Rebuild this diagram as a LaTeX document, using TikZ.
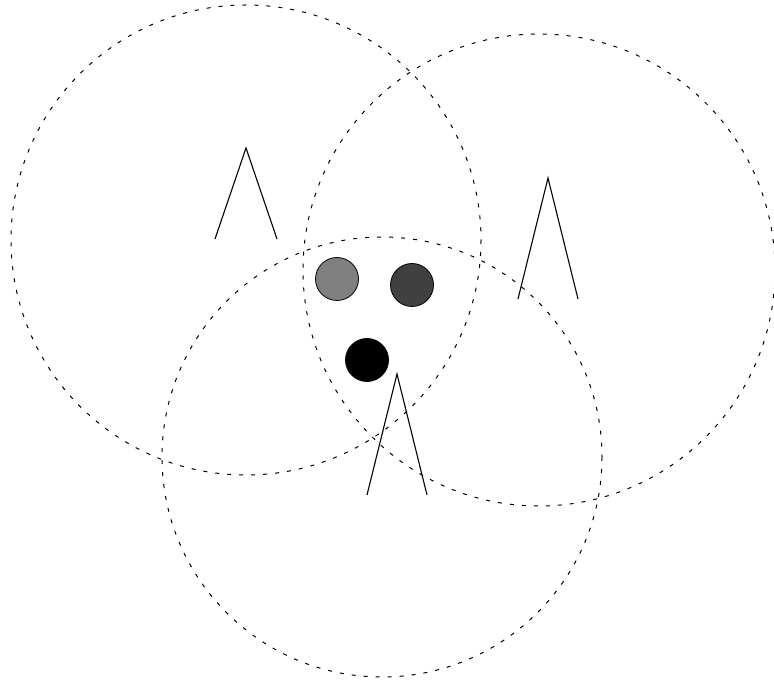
\documentclass[tikz,border=0pt]{standalone}
\begin{document}
\begin{tikzpicture}[x=1pt,y=-1pt,
  coverage/.style={draw=black,line width=1pt,dash pattern=on 4pt off 8pt},
  antenna/.style={draw=black,line width=1.1pt},
  device/.style={circle,draw=black,line width=0.8pt,minimum size=43pt,inner sep=0pt}]
\useasboundingbox (0,0) rectangle (774,684);
\draw[coverage] (246,240) circle (235);
\draw[coverage] (539,270) circle (236);
\draw[coverage] (382,457) circle (220);
\coordinate (a1) at (246,148);
\coordinate (a1l) at (215,239);
\coordinate (a1r) at (277,239);
\coordinate (a2) at (548,178);
\coordinate (a2l) at (518,299);
\coordinate (a2r) at (578,299);
\coordinate (a3) at (397,374);
\coordinate (a3l) at (367,495);
\coordinate (a3r) at (427,495);
\draw[antenna] (a1l) -- (a1) -- (a1r);
\draw[antenna] (a2l) -- (a2) -- (a2r);
\draw[antenna] (a3l) -- (a3) -- (a3r);
\node[device,fill={rgb,255:red,128;green,128;blue,128}] (d1) at (337,279) {};
\node[device,fill={rgb,255:red,64;green,64;blue,64}] (d2) at (412,285) {};
\node[device,fill=black] (d3) at (367,360) {};
\end{tikzpicture}
\end{document}
